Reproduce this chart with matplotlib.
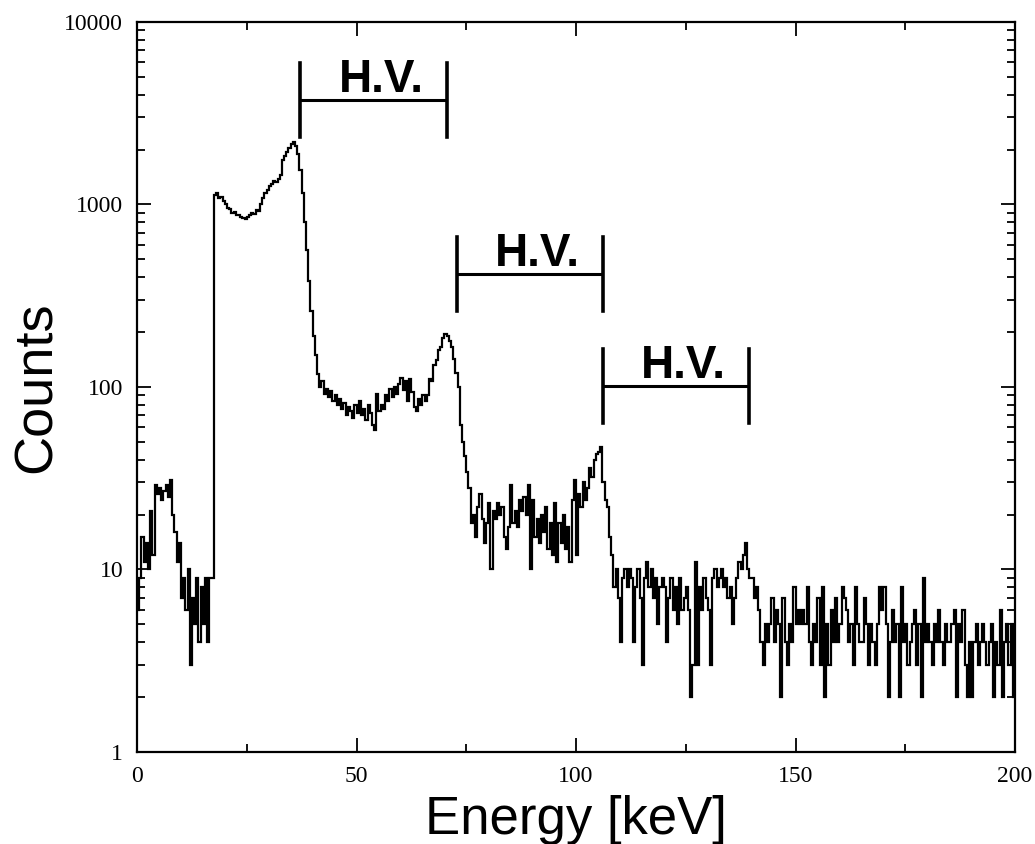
import numpy as np
import matplotlib
matplotlib.use("Agg")
import matplotlib.pyplot as plt
from matplotlib.ticker import FixedLocator, FuncFormatter, NullFormatter

# energy spectrum, 0.5 keV bins from 0 to 200 keV (counts)
bin_width = 0.5
counts = [
    6, 9, 15, 11, 14, 10, 21, 12, 29, 26,                       # 0-5
    28, 24, 27, 29, 25, 31, 20, 16, 11, 14,                     # 5-10
    7, 9, 6, 10, 3, 7, 5, 9, 4, 8,                              # 10-15
    5, 9, 4, 9, 9, 1120, 1150, 1080, 1100, 1040,                # 15-20
    1000, 960, 940, 900, 910, 870, 880, 850, 840, 830,          # 20-25
    850, 870, 900, 890, 930, 920, 1000, 1080, 1150, 1200,       # 25-30
    1260, 1300, 1350, 1330, 1380, 1450, 1750, 1850, 1950, 2050, # 30-35
    2150, 2200, 2100, 1900, 1550, 1150, 800, 560, 380, 260,     # 35-40
    190, 150, 118, 100, 108, 92, 98, 88, 95, 84,                # 40-45
    90, 80, 86, 76, 82, 70, 78, 74, 68, 80,                     # 45-50
    72, 84, 70, 76, 66, 80, 72, 62, 58, 92,                     # 50-55
    74, 80, 76, 90, 84, 98, 88, 100, 92, 104,                   # 55-60
    112, 96, 108, 84, 110, 94, 78, 74, 86, 80,                  # 60-65
    90, 84, 90, 110, 108, 132, 140, 160, 165, 185,              # 65-70
    195, 190, 178, 165, 142, 120, 100, 62, 50, 42,              # 70-75
    34, 28, 18, 20, 15, 22, 26, 19, 14, 18,                     # 75-80
    23, 10, 21, 19, 23, 20, 22, 15, 13, 17,                     # 80-85
    29, 18, 21, 17, 24, 21, 25, 20, 29, 10,                     # 85-90
    24, 15, 19, 14, 20, 16, 22, 13, 18, 12,                     # 90-95
    23, 11, 18, 14, 20, 13, 17, 11, 24, 31,                     # 95-100
    12, 26, 22, 30, 24, 28, 36, 32, 40, 43,                     # 100-105
    44, 47, 30, 24, 22, 15, 12, 8, 10, 7,                       # 105-110
    4, 9, 10, 8, 10, 9, 4, 8, 10, 7,                            # 110-115
    3, 9, 11, 8, 10, 7, 9, 5, 8, 9,                             # 115-120
    8, 4, 7, 9, 6, 8, 5, 9, 6, 7,                               # 120-125
    8, 6, 2, 3, 11, 3, 8, 6, 9, 7,                              # 125-130
    6, 3, 9, 10, 8, 9, 10, 8, 9, 7,                             # 130-135
    8, 5, 7, 9, 11, 10, 12, 14, 10, 9,                          # 135-140
    9, 7, 8, 6, 4, 3, 5, 4, 5, 7,                               # 140-145
    4, 6, 5, 2, 7, 4, 3, 5, 4, 8,                               # 145-150
    5, 6, 5, 6, 5, 8, 4, 3, 5, 4,                               # 150-155
    7, 3, 8, 2, 5, 3, 6, 4, 7, 4,                               # 155-160
    5, 8, 7, 6, 4, 5, 3, 8, 5, 4,                               # 160-165
    4, 7, 5, 3, 5, 4, 3, 5, 8, 6,                               # 165-170
    8, 5, 2, 4, 6, 4, 5, 2, 8, 4,                               # 170-175
    5, 3, 4, 5, 6, 3, 5, 2, 9, 4,                               # 175-180
    5, 4, 3, 5, 4, 6, 4, 3, 5, 4,                               # 180-185
    4, 5, 6, 2, 5, 4, 6, 3, 2, 4,                               # 185-190
    2, 4, 5, 3, 4, 5, 4, 3, 4, 5,                               # 190-195
    2, 4, 3, 6, 2, 4, 5, 3, 5, 2,                               # 195-200
]

# "H.V." brackets (keV and counts)
hv_left = [37.2, 72.9, 106.1]
hv_right = [70.5, 106.2, 139.3]
hv_level = [3740, 416, 101]
hv_label = "H.V."

y_ticks = [1, 10, 100, 1000, 10000]
x_ticks = [0, 50, 100, 150, 200]
x_minor = [25, 75, 125, 175]

fig = plt.figure(figsize=(10.35, 8.44), dpi=100)
ax = fig.add_axes([0.1324, 0.109, 0.8483, 0.865])

edges = np.arange(len(counts) + 1) * bin_width
ax.stairs(counts, edges, baseline=None, color="black", linewidth=1.6)

# brackets
for xl, xr, h in zip(hv_left, hv_right, hv_level):
    ax.plot([xl, xr], [h, h], color="black", linewidth=2.2, solid_capstyle="butt")
    ax.plot([xl, xl], [h * 1.6, h / 1.6], color="black", linewidth=2.6)
    ax.plot([xr, xr], [h * 1.6, h / 1.6], color="black", linewidth=2.6)
    ax.annotate(hv_label, xy=((xl + xr) / 2 + 1.7, h), xytext=(0, 6),
                textcoords="offset points", ha="center", va="baseline",
                fontsize=33, fontweight="bold", family="Liberation Sans")

ax.set_yscale("log")
ax.set_xlim(0, 200)
ax.set_ylim(1, 10000)

ax.yaxis.set_major_locator(FixedLocator(y_ticks))
ax.yaxis.set_major_formatter(FuncFormatter(lambda v, p: f"{int(round(v))}"))
minor_y = [m * 10 ** e for e in range(0, 4) for m in range(2, 10)]
ax.yaxis.set_minor_locator(FixedLocator(minor_y))
ax.yaxis.set_minor_formatter(NullFormatter())
ax.xaxis.set_major_locator(FixedLocator(x_ticks))
ax.xaxis.set_minor_locator(FixedLocator(x_minor))

ax.tick_params(which="both", direction="in", top=True, right=True, width=1.3)
ax.tick_params(which="major", length=10, pad=10)
ax.tick_params(which="minor", length=6)
for lab in ax.get_xticklabels() + ax.get_yticklabels():
    lab.set_family("Liberation Serif")
    lab.set_fontsize(17)

for s in ax.spines.values():
    s.set_linewidth(1.6)

ax.set_xlabel("Energy [keV]", fontsize=38, family="Liberation Sans", labelpad=6)
ax.set_ylabel("Counts", fontsize=39, family="Liberation Sans", labelpad=2)

fig.savefig("out.png", dpi=100, facecolor="white")
